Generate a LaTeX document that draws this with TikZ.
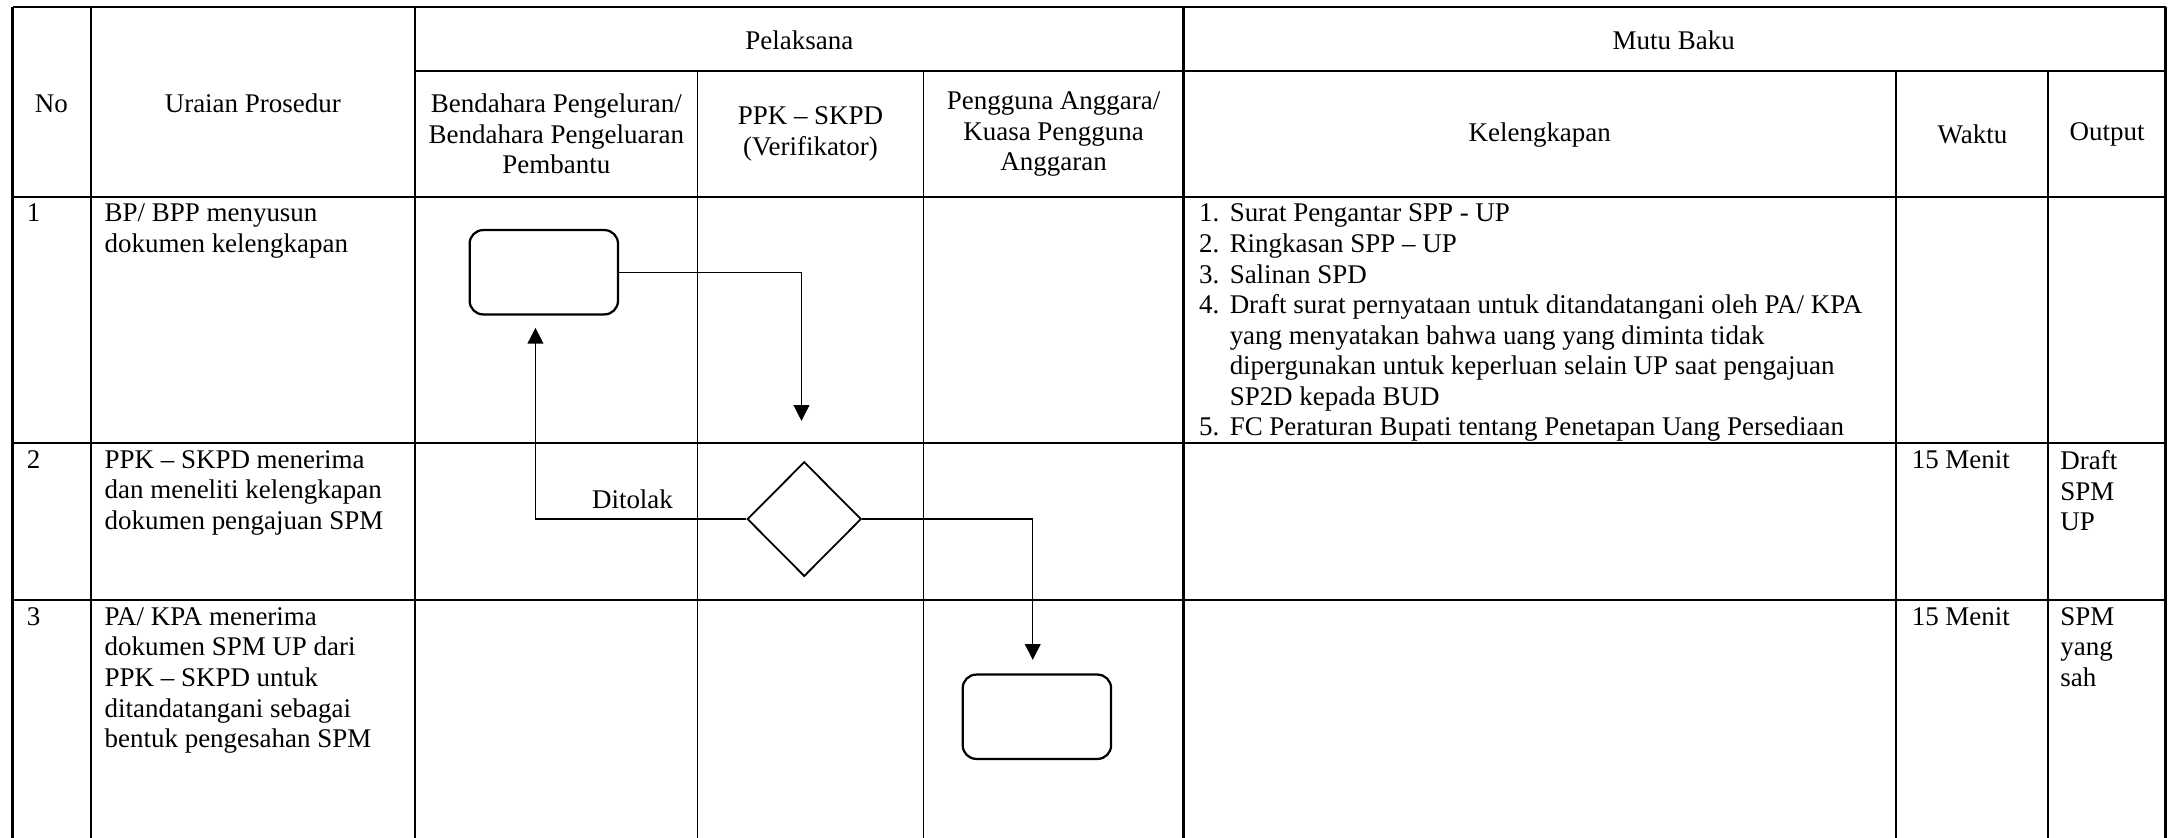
\documentclass[tikz,border=0pt]{standalone}
\usepackage{fontspec}
\setmainfont{Liberation Serif}
\usepackage{tikz}
\usetikzlibrary{arrows.meta,shapes.geometric}
\newcommand{\itemno}[1]{\makebox[13.6pt][l]{#1}}
\newcommand{\itemgap}{\hspace*{13.6pt}}

\begin{document}
\begin{tikzpicture}[
  x=0.618pt, y=-0.618pt,
  every node/.style={font=\fontsize{12}{13.6}\selectfont},
  rule/.style={line width=1pt},
  thinrule/.style={line width=0.6pt},
  head/.style={align=center},
  cell/.style={anchor=north west,align=left,inner sep=0pt},
  proc/.style={draw,line width=1pt,rounded corners=6pt,minimum width=66pt,minimum height=37.5pt},
  decide/.style={draw,diamond,line width=0.8pt,minimum width=50.7pt,minimum height=51pt,inner sep=0pt},
  flow/.style={-{Triangle[length=7pt,width=7pt]},line width=0.6pt}
]
\useasboundingbox (0,0) rectangle (1568,603);

% table grid
\draw[rule] (9,5) -- (1559,5);
\draw[rule] (299,51) -- (1559,51);
\foreach \y in {141.6,319,432} \draw[rule] (9,\y) -- (1559,\y);
\foreach \x in {9,65.3,299,852,1559} \draw[rule] (\x,5) -- (\x,603);
\foreach \x in {1365,1474.5} \draw[rule] (\x,51) -- (\x,603);
\foreach \x in {502,665} \draw[thinrule] (\x,51) -- (\x,603);

% header
\node (pel) at (575.5,29) {Pelaksana};
\node (mutu) at (1205,29) {Mutu Baku};
\node (no) at (37,74.4) {No};
\node (uraian) at (182,74.4) {Uraian Prosedur};
\node[head] (bp) at (400.5,96.5) {Bendahara Pengeluran/\\Bendahara Pengeluaran\\Pembantu};
\node[head] (ppk) at (583.5,96.5) {PPK – SKPD\\(Verifikator)};
\node[head] (pa) at (758.5,96.5) {Pengguna Anggara/\\Kuasa Pengguna\\Anggaran};
\node (kel) at (1108.5,97) {Kelengkapan};
\node (wkt) at (1420,97) {Waktu};
\node (outp) at (1517,97) {Output};

% rows
\node[cell] (n1) at (19,146.6) {1};
\node[cell] (u1) at (75,146.6) {BP/ BPP menyusun\\dokumen kelengkapan};
\node[cell] (k1) at (863,146.6) {\itemno{1.}Surat Pengantar SPP - UP\\
  \itemno{2.}Ringkasan SPP – UP\\
  \itemno{3.}Salinan SPD\\
  \itemno{4.}Draft surat pernyataan untuk ditandatangani oleh PA/ KPA\\
  \itemgap yang menyatakan bahwa uang yang diminta tidak\\
  \itemgap dipergunakan untuk keperluan selain UP saat pengajuan\\
  \itemgap SP2D kepada BUD\\
  \itemno{5.}FC Peraturan Bupati tentang Penetapan Uang Persediaan};

\node[cell] (n2) at (19,324) {2};
\node[cell] (u2) at (75,324) {PPK – SKPD menerima\\dan meneliti kelengkapan\\dokumen pengajuan SPM};
\node[cell] (w2) at (1376,324) {15 Menit};
\node[cell] (o2) at (1483,324) {Draft\\SPM\\UP};

\node[cell] (n3) at (19,437) {3};
\node[cell] (u3) at (75,437) {PA/ KPA menerima\\dokumen SPM UP dari\\PPK – SKPD untuk\\ditandatangani sebagai\\bentuk pengesahan SPM};
\node[cell] (w3) at (1376,437) {15 Menit};
\node[cell] (o3) at (1483,437) {SPM\\yang\\sah};

% flow
\node[proc] (bpbox) at (391.5,196) {};
\node[decide] (cek) at (579,373.7) {};
\node[proc] (pabox) at (746.5,516) {};
\coordinate (toppk) at (577,303);
\coordinate (tobp) at (385.5,236);
\coordinate (topa) at (743.5,475);
\draw[flow] (bpbox.east) -| (toppk);
\draw[flow] (cek.west) -| node[pos=0.27,above=1pt] (tolak) {Ditolak} (tobp);
\draw[flow] (cek.east) -| (topa);
\end{tikzpicture}
\end{document}
